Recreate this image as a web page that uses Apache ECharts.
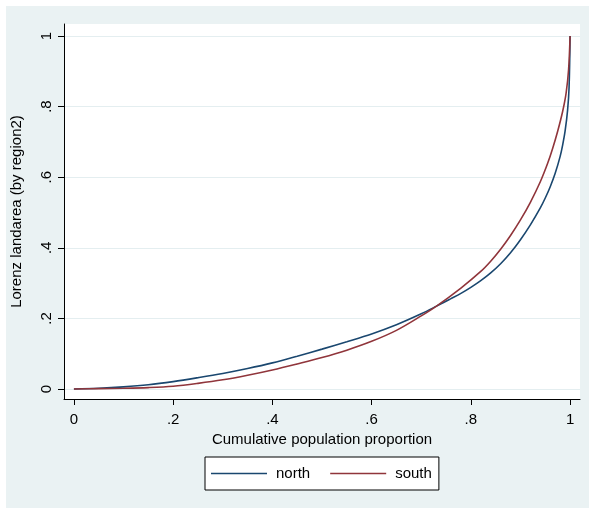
<!DOCTYPE html>
<html>
<head>
<meta charset="utf-8">
<script src="https://cdn.jsdelivr.net/npm/echarts@6/dist/echarts.min.js"></script>
<style>
  html, body { margin: 0; padding: 0; background: #ffffff; }
  #chart { position: absolute; left: 6px; top: 6px; width: 583px; height: 502px; }
</style>
</head>
<body>
<div id="chart"></div>
<script>
// Lorenz curves of land area, by region
const northX = [0, 0.05, 0.1, 0.15, 0.2, 0.25, 0.3, 0.35, 0.4, 0.45, 0.5, 0.55, 0.6, 0.65, 0.7, 0.73, 0.76, 0.78, 0.8, 0.82, 0.84, 0.86, 0.88, 0.9, 0.92, 0.94, 0.95, 0.96, 0.97, 0.98, 0.985, 0.99, 0.995, 0.998, 1];
const northY = [0, 0.002, 0.006, 0.012, 0.021, 0.032, 0.044, 0.058, 0.074, 0.093, 0.113, 0.134, 0.156, 0.182, 0.213, 0.234, 0.256, 0.271, 0.288, 0.307, 0.329, 0.355, 0.386, 0.423, 0.465, 0.513, 0.541, 0.573, 0.611, 0.659, 0.691, 0.731, 0.79, 0.855, 1];

const southX = [0, 0.05, 0.1, 0.15, 0.2, 0.25, 0.3, 0.35, 0.4, 0.45, 0.5, 0.55, 0.6, 0.65, 0.7, 0.73, 0.78, 0.82, 0.84, 0.86, 0.88, 0.9, 0.92, 0.94, 0.955, 0.965, 0.975, 0.985, 0.992, 0.997, 1];
const southY = [0, 0.001, 0.002, 0.004, 0.008, 0.016, 0.026, 0.039, 0.054, 0.071, 0.089, 0.110, 0.135, 0.166, 0.207, 0.234, 0.286, 0.333, 0.362, 0.396, 0.435, 0.479, 0.529, 0.587, 0.64, 0.682, 0.73, 0.786, 0.838, 0.905, 1];

const seriesNames = ['north', 'south'];
const seriesColors = ['#1a476f', '#90353b'];
const tickValues = [0, 0.2, 0.4, 0.6, 0.8, 1];
const tickLabels = ['0', '.2', '.4', '.6', '.8', '1'];
const xTitle = 'Cumulative population proportion';
const yTitle = 'Lorenz landarea (by region2)';

const FONT = 'Liberation Sans, Arial, Helvetica, sans-serif';
const INK = '#000000';
const GRID_LINE = '#e4eef0';

function pairs(xs, ys) {
  return xs.map((x, i) => [x, ys[i]]);
}
function tickText(v) {
  const i = tickValues.findIndex(t => Math.abs(t - v) < 1e-9);
  return i >= 0 ? tickLabels[i] : '';
}
function curve(name, xs, ys, color) {
  return {
    name: name, type: 'line',
    data: pairs(xs, ys),
    symbol: 'none', showSymbol: false,
    smooth: 0.35,
    lineStyle: { color: color, width: 1.6 },
    itemStyle: { color: color }
  };
}

const chart = echarts.init(document.getElementById('chart'), null, { renderer: 'canvas' });

chart.setOption({
  animation: false,
  backgroundColor: '#eaf2f3',
  textStyle: { fontFamily: FONT },
  grid: {
    left: 58, top: 18, width: 516, height: 375,
    outerBoundsMode: 'none', containLabel: false,
    show: true, backgroundColor: '#ffffff', borderWidth: 0
  },
  legend: {
    data: seriesNames,
    left: 199, top: 451,
    padding: [9, 7, 9, 6],
    icon: 'rect',
    itemWidth: 56, itemHeight: 1.6,
    itemGap: 20,
    backgroundColor: '#ffffff',
    borderColor: INK, borderWidth: 1, borderRadius: 0,
    textStyle: { fontFamily: FONT, fontSize: 15, color: INK, padding: [0, 0, 0, 4] }
  },
  xAxis: {
    type: 'value',
    min: -0.02, max: 1.02,
    name: xTitle,
    nameLocation: 'middle',
    nameGap: 31,
    nameTextStyle: { fontFamily: FONT, fontSize: 15, color: INK },
    axisLine: { show: true, onZero: false, lineStyle: { color: INK, width: 1 } },
    axisTick: { show: true, length: 6, customValues: tickValues, lineStyle: { color: INK, width: 1 } },
    axisLabel: {
      customValues: tickValues, formatter: tickText,
      margin: 13, fontFamily: FONT, fontSize: 15, color: INK
    },
    splitLine: { show: false }
  },
  yAxis: {
    type: 'value',
    min: -0.0283, max: 1.034,
    name: yTitle,
    nameLocation: 'middle',
    nameGap: 40,
    nameTextStyle: { fontFamily: FONT, fontSize: 15, color: INK },
    axisLine: { show: true, onZero: false, lineStyle: { color: INK, width: 1 } },
    axisTick: { show: true, length: 6, customValues: tickValues, lineStyle: { color: INK, width: 1 } },
    axisLabel: {
      customValues: tickValues, formatter: tickText, rotate: 90,
      margin: 10, fontFamily: FONT, fontSize: 15, color: INK
    },
    splitLine: { show: true, lineStyle: { color: GRID_LINE, width: 1 } }
  },
  series: [
    curve(seriesNames[0], northX, northY, seriesColors[0]),
    curve(seriesNames[1], southX, southY, seriesColors[1])
  ]
});
</script>
</body>
</html>
